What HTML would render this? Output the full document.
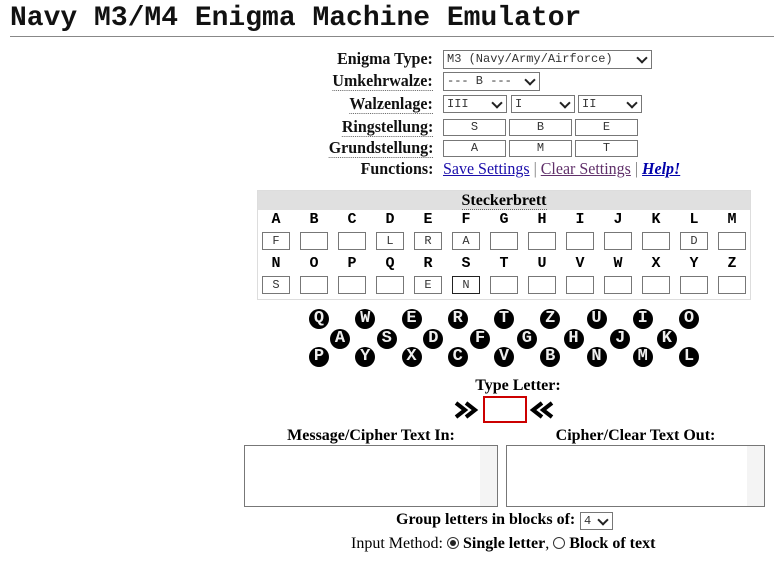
<!DOCTYPE html>
<html><head><meta charset="utf-8"><style>
body{margin:0;width:774px;height:565px;background:#fff;position:relative;overflow:hidden;font-family:"Liberation Serif",serif}
.a{position:absolute}
.title{left:10px;top:3px;font-family:"Liberation Mono",monospace;font-weight:bold;font-size:28px;color:#111;white-space:nowrap}
.hr{left:10px;top:36px;width:764px;height:1px;background:#888}
.lbl{right:341px;font-weight:bold;font-size:17px;color:#111;white-space:nowrap;transform:scaleX(0.94);transform-origin:right}
.dot{border-bottom:1px dotted #666}
.box{border:1px solid #777;background:#fff;box-sizing:border-box;font-family:"Liberation Mono",monospace;font-size:12px;color:#333}
.sel{padding-left:3px;line-height:16px}
.sel:after{content:"";position:absolute;right:5px;top:3px;width:6px;height:6px;border-right:2px solid #222;border-bottom:2px solid #222;transform:rotate(45deg)}
.inp{text-align:center;line-height:15px}
.panel{left:257px;top:190px;width:494px;height:110px;border:1px solid #ddd;box-sizing:border-box}
.ph{left:0;top:0;width:492px;height:19px;background:#e0e0e0;text-align:center;font-weight:bold;font-size:16px;line-height:19px}
.L{font-family:"Liberation Mono",monospace;font-weight:bold;font-size:15px;width:20px;text-align:center}
.k{width:20px;height:20px;border-radius:50%;background:#000;color:#eee;font-family:"Liberation Mono",monospace;font-weight:bold;font-size:17px;line-height:20px;text-align:center}
.t16{font-weight:bold;font-size:16px}
a{color:#1a0dab}
</style></head><body>
<div class="a title">Navy M3/M4 Enigma Machine Emulator</div>
<div class="a hr"></div>

<div class="a lbl" style="top:49px">Enigma Type:</div>
<div class="a lbl" style="top:71px"><span class="dot">Umkehrwalze:</span></div>
<div class="a lbl" style="top:94px"><span class="dot">Walzenlage:</span></div>
<div class="a lbl" style="top:117px"><span class="dot">Ringstellung:</span></div>
<div class="a lbl" style="top:138px"><span class="dot">Grundstellung:</span></div>
<div class="a lbl" style="top:159px">Functions:</div>

<div class="a box sel" style="left:443px;top:50px;width:209px;height:19px">M3 (Navy/Army/Airforce)</div>
<div class="a box sel" style="left:443px;top:72px;width:97px;height:19px">--- B ---</div>
<div class="a box sel" style="left:443px;top:95px;width:64px;height:18px">III</div>
<div class="a box sel" style="left:511px;top:95px;width:64px;height:18px">I</div>
<div class="a box sel" style="left:578px;top:95px;width:64px;height:18px">II</div>
<div class="a box inp" style="left:443px;top:119px;width:63px;height:17px">S</div>
<div class="a box inp" style="left:509px;top:119px;width:63px;height:17px">B</div>
<div class="a box inp" style="left:575px;top:119px;width:63px;height:17px">E</div>
<div class="a box inp" style="left:443px;top:140px;width:63px;height:17px">A</div>
<div class="a box inp" style="left:509px;top:140px;width:63px;height:17px">M</div>
<div class="a box inp" style="left:575px;top:140px;width:63px;height:17px">T</div>
<div class="a" style="left:443px;top:159px;font-size:17px;white-space:nowrap;color:#777;transform:scaleX(0.94);transform-origin:left"><a href="#">Save Settings</a> | <a href="#" style="color:#60306a">Clear Settings</a> | <a href="#" style="font-weight:bold;font-style:italic;color:#0000aa">Help!</a></div>

<div class="a panel"><div class="a ph"><span class="dot">Steckerbrett</span></div></div>
<div id="st"></div>
<div id="keys"></div>

<div class="a t16" style="left:0;width:1036px;top:377px;text-align:center">Type Letter:</div>
<svg class="a" style="left:453px;top:399px" width="30" height="22"><g fill="none" stroke="#000" stroke-width="4"><polyline points="3,4 12,11 3,18"/><polyline points="13,4 22,11 13,18"/></g></svg>
<div class="a" style="left:483px;top:396px;width:44px;height:27px;border:2px solid #c00;box-sizing:border-box"></div>
<svg class="a" style="left:528px;top:399px" width="30" height="22"><g fill="none" stroke="#000" stroke-width="4"><polyline points="14,4 5,11 14,18"/><polyline points="24,4 15,11 24,18"/></g></svg>

<div class="a t16" style="left:244px;width:254px;top:427px;text-align:center">Message/Cipher Text In:</div>
<div class="a t16" style="left:506px;width:259px;top:427px;text-align:center">Cipher/Clear Text Out:</div>
<div class="a box" style="left:244px;top:445px;width:254px;height:62px"><div class="a" style="right:0;top:0;width:17px;height:60px;background:#f4f4f4"></div></div>
<div class="a box" style="left:506px;top:445px;width:259px;height:62px"><div class="a" style="right:0;top:0;width:17px;height:60px;background:#f4f4f4"></div></div>

<div class="a t16" style="left:396px;top:511px;white-space:nowrap">Group letters in blocks of:</div>
<div class="a box sel" style="left:580px;top:512px;width:33px;height:18px">4</div>
<div class="a" style="left:351px;top:535px;font-size:16px;white-space:nowrap">Input Method: <span style="display:inline-block;width:12px;height:12px;border:1px solid #333;border-radius:50%;position:relative;top:1px;box-sizing:border-box"><span style="position:absolute;left:2px;top:2px;width:6px;height:6px;border-radius:50%;background:#222"></span></span> <b>Single letter</b>, <span style="display:inline-block;width:12px;height:12px;border:1px solid #333;border-radius:50%;position:relative;top:1px;box-sizing:border-box"></span> <b>Block of text</b></div>

<script>
var s='',L='ABCDEFGHIJKLMNOPQRSTUVWXYZ',v={A:'F',D:'L',E:'R',F:'A',L:'D',N:'S',R:'E',S:'N'};
for(var i=0;i<26;i++){var c=i%13,r=Math.floor(i/13),x=276+38*c;
s+='<div class="a L" style="left:'+(x-10)+'px;top:'+(211+r*44)+'px">'+L[i]+'</div>';
s+='<div class="a box inp" style="left:'+(x-14)+'px;top:'+(232+r*44)+'px;width:28px;height:18px;line-height:16px'+(L[i]=='S'?';border-color:#222':'')+'">'+(v[L[i]]||'')+'</div>';}
document.getElementById('st').innerHTML=s;
var rows=[['QWERTZUIO',319,319,46.25],['ASDFGHJK',340,339,46.7],['PYXCVBNML',319,357,46.25]],k='';
rows.forEach(function(r){for(var j=0;j<r[0].length;j++){k+='<div class="a k" style="left:'+(r[1]+j*r[3]-10)+'px;top:'+(r[2]-10)+'px">'+r[0][j]+'</div>';}});
document.getElementById('keys').innerHTML=k;
</script>
</body></html>
